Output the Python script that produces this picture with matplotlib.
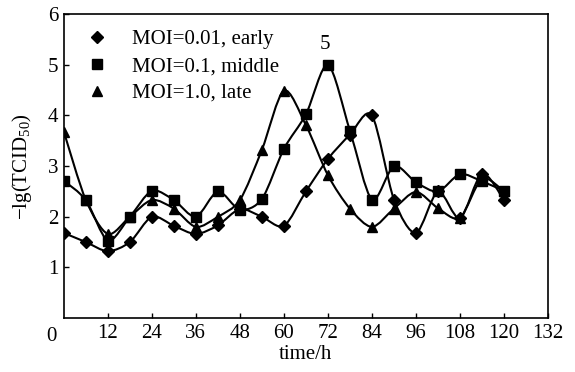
import numpy as np
import matplotlib
matplotlib.use("Agg")
import matplotlib.pyplot as plt
from matplotlib.path import Path
from matplotlib.patches import PathPatch

plt.rcParams["font.family"] = ["Liberation Serif", "DejaVu Serif"]
plt.rcParams["mathtext.default"] = "regular"

# ── data ──────────────────────────────────────────────────────
times = [0, 6, 12, 18, 24, 30, 36, 42, 48, 54, 60, 66, 72, 78, 84, 90, 96, 102, 108, 114, 120]
early = [1.68, 1.50, 1.32, 1.50, 2.00, 1.82, 1.66, 1.83, 2.15, 2.00, 1.82,
         2.50, 3.14, 3.62, 4.00, 2.34, 1.68, 2.50, 1.97, 2.85, 2.33]
middle = [2.71, 2.33, 1.53, 2.00, 2.51, 2.33, 2.00, 2.50, 2.14, 2.35, 3.34,
          4.02, 5.00, 3.70, 2.34, 3.00, 2.68, 2.50, 2.84, 2.70, 2.51]
late = [3.68, 2.33, 1.66, 2.00, 2.33, 2.16, 1.80, 2.00, 2.33, 3.32, 4.49,
        3.81, 2.82, 2.16, 1.80, 2.16, 2.49, 2.17, 1.98, 2.75, 2.50]

labels = ["MOI=0.01, early", "MOI=0.1, middle", "MOI=1.0, late"]
markers = ["D", "s", "^"]
msizes = [5.8, 6.5, 7.5]
xticks = [12, 24, 36, 48, 60, 72, 84, 96, 108, 120, 132]
yticks = [1, 2, 3, 4, 5, 6]
FS = 15


def smooth_path(x, y, k=7.0):
    # Excel-style smoothed line: cubic bezier through every point
    pts = np.column_stack([x, y]).astype(float)
    n = len(pts)
    verts = [pts[0]]
    codes = [Path.MOVETO]
    for i in range(n - 1):
        p0 = pts[i - 1] if i > 0 else pts[i]
        p1 = pts[i]
        p2 = pts[i + 1]
        p3 = pts[i + 2] if i + 2 < n else pts[i + 1]
        verts += [p1 + (p2 - p0) / k, p2 - (p3 - p1) / k, p2]
        codes += [Path.CURVE4] * 3
    return Path(verts, codes)


fig = plt.figure(figsize=(5.75, 3.72), dpi=100)
ax = fig.add_axes([0.111, 0.145, 0.842, 0.817])

handles = []
for ys, m, ms, lab in zip([early, middle, late], markers, msizes, labels):
    ax.add_patch(PathPatch(smooth_path(times, ys), fill=False,
                           edgecolor="black", lw=1.5, zorder=2))
    h, = ax.plot(times, ys, ls="none", marker=m, markersize=ms,
                 color="black", zorder=3, label=lab)
    handles.append(h)

ax.annotate("5", xy=(72, 5.0), xytext=(-2, 8), textcoords="offset points",
            ha="center", va="bottom", fontsize=FS)

ax.set_xlim(0, 132)
ax.set_ylim(0, 6)
ax.set_xticks(xticks)
ax.set_yticks(yticks)
ax.tick_params(direction="in", length=3.5, width=1, labelsize=FS,
               top=False, right=False, pad=4)
ax.text(-0.025, -0.03, "0", transform=ax.transAxes, ha="center", va="top",
        fontsize=FS)
for s in ax.spines.values():
    s.set_linewidth(1.2)

ax.set_xlabel("time/h", fontsize=FS, labelpad=2)
ax.set_ylabel("\u2212lg(TCID$_{50}$)", fontsize=FS, labelpad=10)

ax.legend(handles=handles, loc="upper left", frameon=False, fontsize=FS,
          bbox_to_anchor=(0.0, 0.99), handletextpad=0.65, labelspacing=0.35,
          borderaxespad=0.2)

fig.savefig("out.png", dpi=100)
